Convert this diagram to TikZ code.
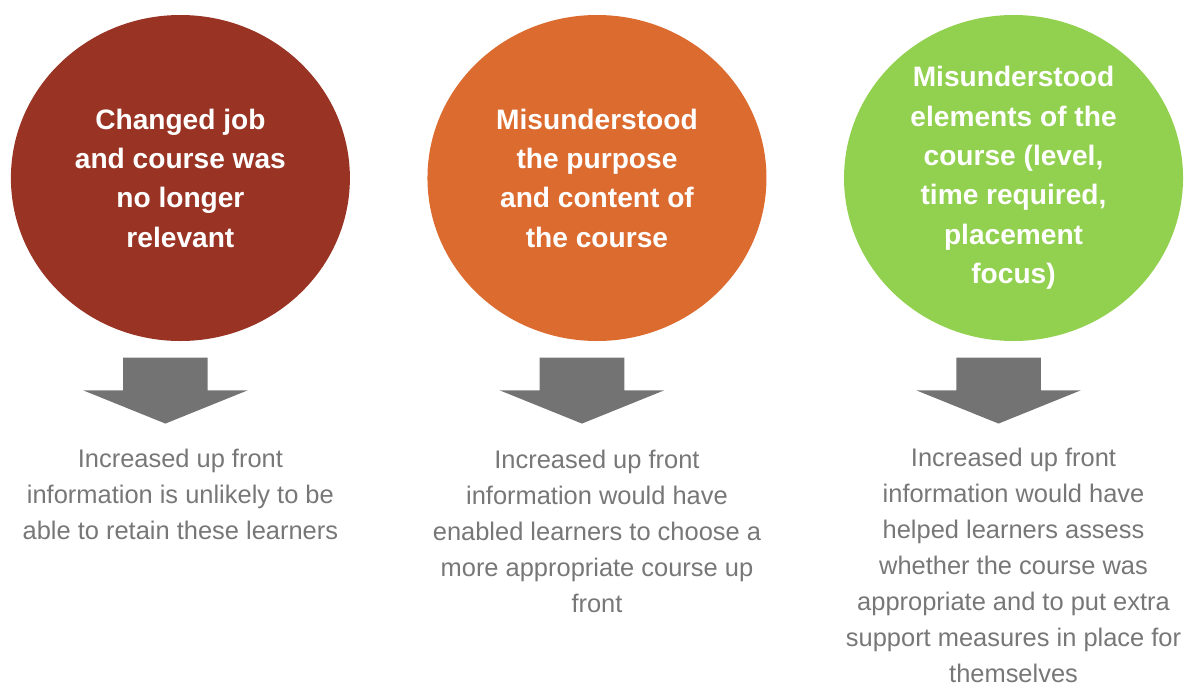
\documentclass[tikz,border=0pt]{standalone}
\usepackage{xcolor}
\usepackage{tikz}
\usepackage{fontspec}
\setmainfont{Liberation Sans}
\usetikzlibrary{shapes,arrows,positioning}
\definecolor{redChanged}{HTML}{993324}
\definecolor{orangeMisread}{HTML}{DC6B30}
\definecolor{greenElements}{HTML}{92D050}
\definecolor{grayArrow}{HTML}{737373}
\definecolor{grayText}{HTML}{777777}
\tikzset{reason-node/.style={ellipse, inner sep=0, minimum width=8.475cm, minimum height=8.15cm, text=white, align=center, font=\bfseries\fontsize{20}{28}\selectfont}}
\tikzset{arrow-down/.style={
        single arrow,
        fill=grayArrow,
        rotate=-90,
        inner xsep=0,
        inner ysep=1.05cm,
        minimum height=1.65cm,
        minimum width=4.1cm,
        single arrow head extend=1cm,
        single arrow tip angle=136
    }
}
\tikzset{effect-text/.style={inner sep=0, text=grayText, align=center, font=\fontsize{18.1}{25.6}\selectfont}}
\newcommand{\reasonblock}[6] {
    \node[reason-node, fill=#3, #2] (reason#1) {#4};
    \node[arrow-down, anchor=tail] (arrow#1) at ([xshift=-0.375cm, yshift=-0.4cm]reason#1.south) {};
    \node[effect-text, below=#5 of arrow#1.tip, xshift=0.375cm] (effect#1) {#6};
}

\begin{document}
\begin{tikzpicture}[]
            \useasboundingbox (0,0) rectangle (29.6,-17.2);
            \reasonblock{1}{at={(4.51,-4.45)}}{redChanged}{Changed job\\and course was\\no longer\\relevant}{0.62cm}{Increased up front\\information is unlikely to be\\able to retain these learners}
            \reasonblock{2}{right=1.925cm of reason1}{orangeMisread}{Misunderstood\\the purpose\\and content of\\the course}{0.65cm}{Increased up front\\information would have\\enabled learners to choose a\\more appropriate course up\\front}
            \reasonblock{3}{right=1.925cm of reason2}{greenElements}{Misunderstood\\elements of the\\course (level,\\time required,\\placement\\focus)}{0.6cm}{Increased up front\\information would have\\helped learners assess\\whether the course was\\appropriate and to put extra\\support measures in place for\\themselves}
        \end{tikzpicture}
\end{document}
